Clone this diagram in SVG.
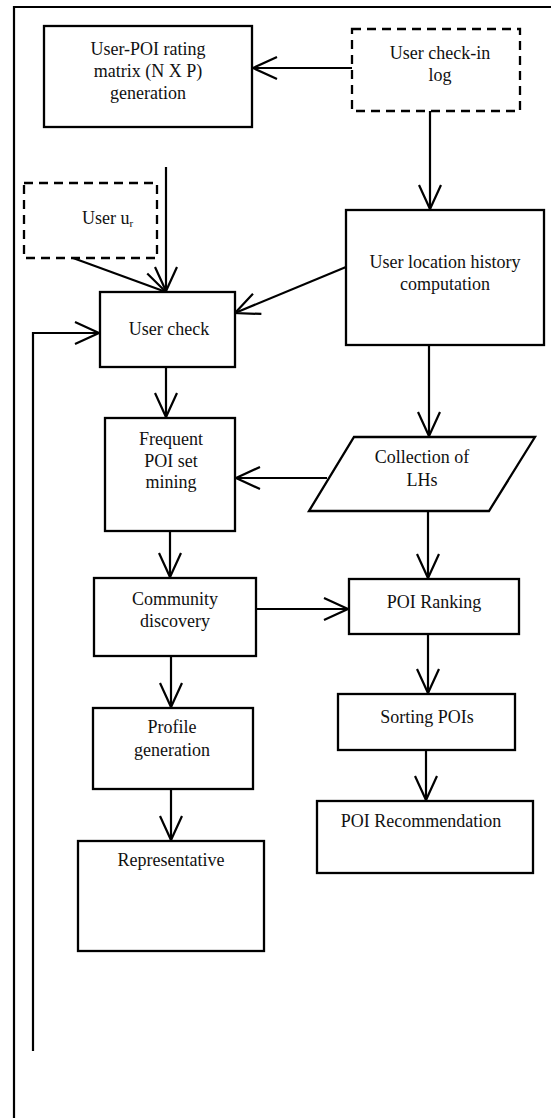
<svg xmlns="http://www.w3.org/2000/svg" width="551" height="1118" viewBox="0 0 551 1118">
<style>
.box{fill:#fff;stroke:#000;stroke-width:2.3}
.dash{fill:#fff;stroke:#000;stroke-width:2.3;stroke-dasharray:9 6}
.ln{fill:none;stroke:#000;stroke-width:2.2}
.t{font-family:"Liberation Serif","Times New Roman",serif;font-size:18px;fill:#111;text-anchor:middle}
</style>
<defs>
<marker id="ah" markerUnits="userSpaceOnUse" viewBox="-3 -3 30 30" markerWidth="30" markerHeight="30" refX="24" refY="11" orient="auto" style="overflow:visible">
<path d="M0,0 L24,11 L0,22" fill="none" stroke="#000" stroke-width="2.2"/>
</marker>
</defs>
<rect width="551" height="1118" fill="#fff"/>
<g id="frame">
<path class="ln" d="M14,1118 L14,7 L551,7"/>
</g>
<g id="connectors">
<path class="ln" d="M352,68 L253,68" marker-end="url(#ah)"/>
<path class="ln" d="M430,111 L430,209" marker-end="url(#ah)"/>
<path class="ln" d="M166,167 L166,291" marker-end="url(#ah)"/>
<path class="ln" d="M73,258 L166,292" marker-end="url(#ah)"/>
<path class="ln" d="M346,267 L235,313" marker-end="url(#ah)"/>
<path class="ln" d="M33,1051 L33,333 L99,333" marker-end="url(#ah)"/>
<path class="ln" d="M166,367 L166,417" marker-end="url(#ah)"/>
<path class="ln" d="M429,345 L429,436" marker-end="url(#ah)"/>
<path class="ln" d="M327,478 L236,478" marker-end="url(#ah)"/>
<path class="ln" d="M170,531 L170,577" marker-end="url(#ah)"/>
<path class="ln" d="M428,511 L428,578" marker-end="url(#ah)"/>
<path class="ln" d="M256,609 L348,609" marker-end="url(#ah)"/>
<path class="ln" d="M171,656 L171,707" marker-end="url(#ah)"/>
<path class="ln" d="M171,789 L171,840" marker-end="url(#ah)"/>
<path class="ln" d="M428,634 L428,693" marker-end="url(#ah)"/>
<path class="ln" d="M426,750 L426,800" marker-end="url(#ah)"/>
</g>
<g id="matrix">
<rect class="box" x="44" y="26" width="208" height="101"/>
<text class="t" x="148" y="55">User-POI rating</text>
<text class="t" x="148" y="77">matrix (N X P)</text>
<text class="t" x="148" y="99">generation</text>
</g>
<g id="checkin">
<rect class="dash" x="352" y="29" width="168" height="82"/>
<text class="t" x="440" y="59">User check-in</text>
<text class="t" x="440" y="81">log</text>
</g>
<g id="user-ur">
<rect class="dash" x="24" y="183" width="133" height="75"/>
<text class="t" x="82" y="224" style="text-anchor:start">User u<tspan font-size="11" dy="3">r</tspan></text>
</g>
<g id="location">
<rect class="box" x="346" y="210" width="198" height="135"/>
<text class="t" x="445" y="268">User location history</text>
<text class="t" x="445" y="290">computation</text>
</g>
<g id="usercheck">
<rect class="box" x="100" y="292" width="135" height="75"/>
<text class="t" x="169" y="335">User check</text>
</g>
<g id="lhs">
<polygon class="box" points="354,437 535,437 489,511 309,511"/>
<text class="t" x="422" y="463">Collection of</text>
<text class="t" x="422" y="486">LHs</text>
</g>
<g id="frequent">
<rect class="box" x="105" y="418" width="130" height="113"/>
<text class="t" x="171" y="445">Frequent</text>
<text class="t" x="171" y="467">POI set</text>
<text class="t" x="171" y="488">mining</text>
</g>
<g id="community">
<rect class="box" x="94" y="578" width="162" height="78"/>
<text class="t" x="175" y="605">Community</text>
<text class="t" x="175" y="627">discovery</text>
</g>
<g id="ranking">
<rect class="box" x="349" y="579" width="170" height="55"/>
<text class="t" x="434" y="608">POI Ranking</text>
</g>
<g id="profile">
<rect class="box" x="93" y="708" width="160" height="81"/>
<text class="t" x="172" y="733">Profile</text>
<text class="t" x="172" y="756">generation</text>
</g>
<g id="sorting">
<rect class="box" x="338" y="694" width="177" height="56"/>
<text class="t" x="427" y="723">Sorting POIs</text>
</g>
<g id="recommendation">
<rect class="box" x="317" y="801" width="216" height="72"/>
<text class="t" x="421" y="827">POI Recommendation</text>
</g>
<g id="representative">
<rect class="box" x="78" y="841" width="186" height="110"/>
<text class="t" x="171" y="866">Representative</text>
</g>
</svg>
